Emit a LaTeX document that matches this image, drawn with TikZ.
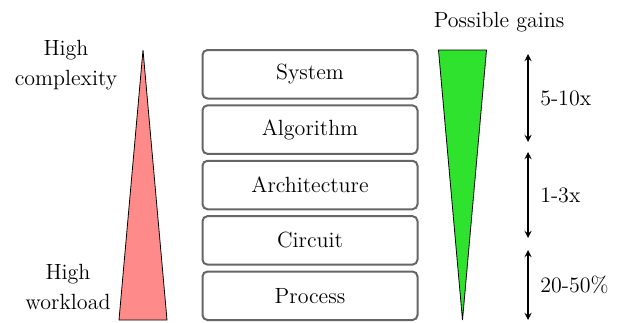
\documentclass[tikz,border=0pt]{standalone}
\usepackage{xcolor}
\usetikzlibrary{
    arrows,
    calc,
    positioning
}
\definecolor{workred}{HTML}{FF8A8A}
\definecolor{gaingreen}{HTML}{2EE22E}
\definecolor{boxgrey}{HTML}{666666}
\tikzset{
    layer/.style={draw=boxgrey, line width=1pt, rounded corners=2.5pt, minimum width=107.5pt, minimum height=24.25pt, inner sep=0pt},
    side/.style={align=center, inner sep=0pt},
    span/.style={<->, >=stealth, line width=0.6pt}
}
\begin{document}
\begin{tikzpicture}[x=0.5pt, y=-0.5pt, every node/.style={font=\fontsize{11}{15}\selectfont}]
                    \useasboundingbox (0, 0) rectangle (622, 322);
                    % left: workload / complexity
                    \draw[fill=workred, thin] (143, 50) -- (167, 320) -- (119, 320) -- cycle;
                    \node[side] (cplx) at (66, 65) {High\\complexity};
                    \node[side] (work) at (68, 287) {High\\workload};
                    % abstraction layers
                    \node[layer] (system) at (310, 74.25) {System};
                    \node[layer] (algo) at (310, 129.6) {Algorithm};
                    \node[layer] (arch) at (310, 185) {Architecture};
                    \node[layer] (circ) at (310, 240.4) {Circuit};
                    \node[layer] (proc) at (310, 295.75) {Process};
                    % right: gains
                    \draw[fill=gaingreen, thin] (438.5, 50) -- (486.5, 50) -- (462.5, 320) -- cycle;
                    \node (gains) at (499, 22) {Possible gains};
                    \coordinate (a1) at (528, 54);
                    \coordinate (a2) at (528, 142);
                    \coordinate (b1) at (528, 152);
                    \coordinate (b2) at (528, 238);
                    \coordinate (c1) at (528, 250);
                    \coordinate (c2) at (528, 320);
                    \draw
                    (a1) edge[span] node[right=2.5pt] (g1) {5-10x} (a2)
                    (b1) edge[span] node[right=2.5pt] (g2) {1-3x} (b2)
                    (c1) edge[span] node[right=2.5pt] (g3) {20-50\%} (c2);
                \end{tikzpicture}
\end{document}
